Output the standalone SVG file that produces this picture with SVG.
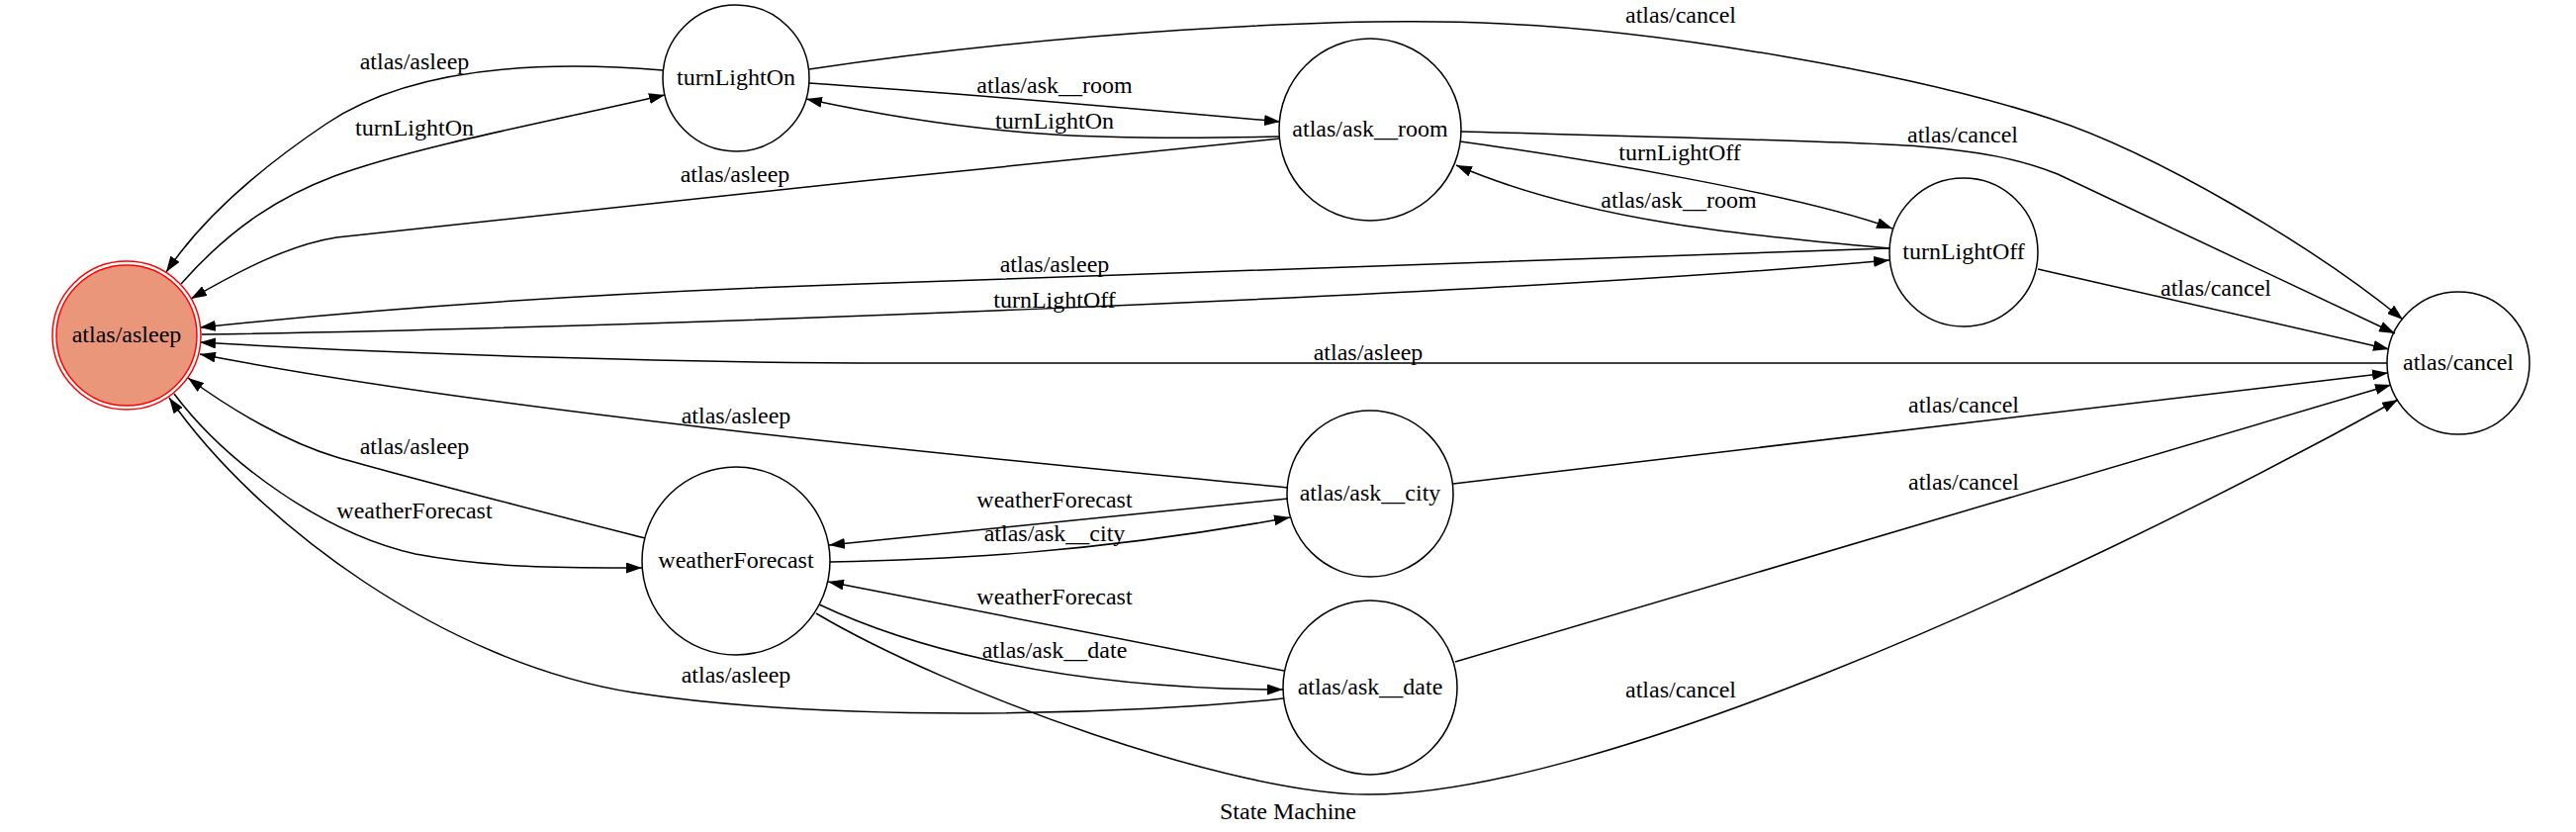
<svg xmlns="http://www.w3.org/2000/svg" width="2604" height="841" viewBox="0 0 2604 841">
<style>
text{font-family:"Liberation Serif","Times New Roman",serif;font-size:24px;text-anchor:middle;fill:#000}
.n{fill:none;stroke:#000;stroke-width:1.5}
.e{fill:none;stroke:#000;stroke-width:1.5;marker-end:url(#ah)}
</style>
<defs>
<marker id="ah" viewBox="0 0 16 11" refX="16" refY="5.5" markerWidth="16" markerHeight="11" orient="auto" markerUnits="userSpaceOnUse">
<path d="M0,0 L16,5.5 L0,11 z" fill="#000"/>
</marker>
</defs>
<rect width="2604" height="841" fill="#fff"/>
<g id="connectors">
<path class="e" d="M670,71 C560,62 420,65 330,125 C260,172 205,220 168,275"/>
<text x="419" y="70">atlas/asleep</text>
<path class="e" d="M183,287 C235,228 285,198 338,178 C420,148 560,122 672,96"/>
<text x="419" y="137">turnLightOn</text>
<path class="e" d="M818,70 C1050,35 1350,15 1520,24 C1680,31 1930,73 2073,120 C2180,155 2340,250 2429,323"/>
<text x="1699" y="23">atlas/cancel</text>
<path class="e" d="M818,84 C950,93 1150,110 1294,123"/>
<text x="1066" y="94">atlas/ask__room</text>
<path class="e" d="M1294,138 C1120,142 1000,140 815,100"/>
<text x="1066" y="130">turnLightOn</text>
<path class="e" d="M1294,140 C1000,170 600,210 340,240 C290,248 240,275 193,302"/>
<text x="743" y="184">atlas/asleep</text>
<path class="e" d="M1476,133 C1700,139 1880,143 1940,148 C2000,153 2040,160 2080,176 L2421,337"/>
<text x="1984" y="144">atlas/cancel</text>
<path class="e" d="M1476,143 C1600,160 1820,197 1913,231"/>
<text x="1698" y="162">turnLightOff</text>
<path class="e" d="M1910,251 C1760,238 1600,222 1472,167"/>
<text x="1697" y="210">atlas/ask__room</text>
<path class="e" d="M1910,251 L870,287 C600,296 380,312 202,331"/>
<text x="1066" y="275">atlas/asleep</text>
<path class="e" d="M204,338 C600,332 1500,300 1910,263"/>
<text x="1066" y="311">turnLightOff</text>
<path class="e" d="M2060,272 L2415,353"/>
<text x="2240" y="299">atlas/cancel</text>
<path class="e" d="M2413,367 L900,367 C700,367 400,358 202,346"/>
<text x="1383" y="364">atlas/asleep</text>
<path class="e" d="M1302,493 C1050,468 520,420 202,358"/>
<text x="744" y="428">atlas/asleep</text>
<path class="e" d="M1469,489 L2414,377"/>
<text x="1985" y="417">atlas/cancel</text>
<path class="e" d="M652,544 C550,518 420,485 340,462 C290,447 235,415 190,382"/>
<text x="419" y="459">atlas/asleep</text>
<path class="e" d="M176,398 C230,470 330,540 420,560 C500,575 580,574 649,574"/>
<text x="419" y="524">weatherForecast</text>
<path class="e" d="M1302,504 L838,551"/>
<text x="1066" y="513">weatherForecast</text>
<path class="e" d="M839,568 C950,566 1100,560 1304,523"/>
<text x="1066" y="547">atlas/ask__city</text>
<path class="e" d="M1298,678 L837,588"/>
<text x="1066" y="611">weatherForecast</text>
<path class="e" d="M828,611 C900,645 1050,697 1297,697"/>
<text x="1066" y="665">atlas/ask__date</text>
<path class="e" d="M1297,706 C1150,722 850,732 640,700 C450,670 260,530 171,402"/>
<text x="744" y="690">atlas/asleep</text>
<path class="e" d="M1471,669 L2417,389"/>
<text x="1985" y="495">atlas/cancel</text>
<path class="e" d="M825,620 C960,700 1250,805 1386,803 C1600,803 2050,610 2424,404"/>
<text x="1699" y="705">atlas/cancel</text>
</g>
<g id="atlas_asleep">
<circle cx="128" cy="339" r="71" fill="#e9967a" stroke="#ff0000" stroke-width="1.5"/>
<circle cx="128" cy="339" r="75" fill="none" stroke="#ff0000" stroke-width="1.5"/>
<text x="128" y="346">atlas/asleep</text>
</g>
<g id="turnLightOn">
<circle class="n" cx="744" cy="79" r="74"/>
<text x="744" y="86">turnLightOn</text>
</g>
<g id="atlas_ask__room">
<circle class="n" cx="1385" cy="131" r="92"/>
<text x="1385" y="138">atlas/ask__room</text>
</g>
<g id="turnLightOff">
<circle class="n" cx="1985" cy="255" r="75"/>
<text x="1985" y="262">turnLightOff</text>
</g>
<g id="atlas_cancel">
<circle class="n" cx="2485" cy="367" r="72"/>
<text x="2485" y="374">atlas/cancel</text>
</g>
<g id="weatherForecast">
<circle class="n" cx="744" cy="567" r="95"/>
<text x="744" y="574">weatherForecast</text>
</g>
<g id="atlas_ask__city">
<circle class="n" cx="1385" cy="499" r="84"/>
<text x="1385" y="506">atlas/ask__city</text>
</g>
<g id="atlas_ask__date">
<circle class="n" cx="1385" cy="695" r="88"/>
<text x="1385" y="702">atlas/ask__date</text>
</g>
<text x="1302" y="828">State Machine</text>
</svg>
